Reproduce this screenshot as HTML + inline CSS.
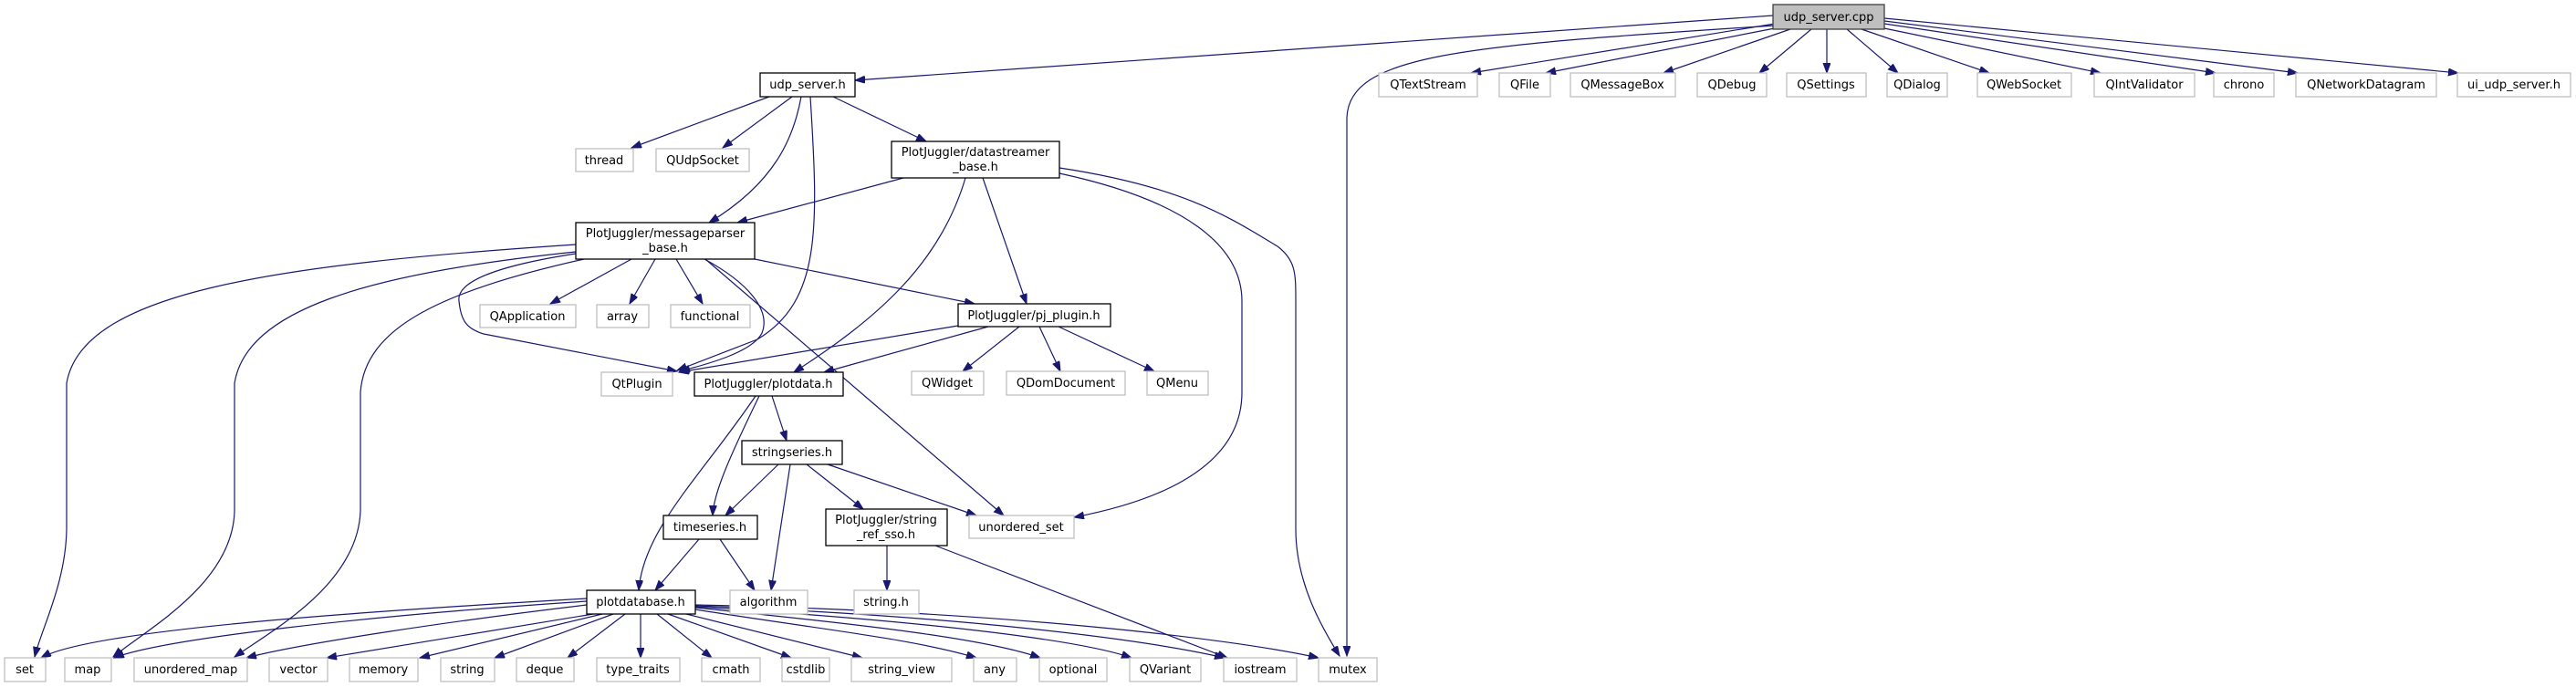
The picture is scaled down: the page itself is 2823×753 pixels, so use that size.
<!DOCTYPE html>
<html><head><meta charset="utf-8"><style>
html,body{margin:0;padding:0;background:#fff;}
svg{display:block;}
text{font-family:"DejaVu Sans","Liberation Sans",sans-serif;font-size:13px;fill:#000;text-anchor:middle;}
.n{fill:#fff;stroke:#bfbfbf;stroke-width:1.3;}
.d{fill:#fff;stroke:#000;stroke-width:1.3;}
.e{fill:none;stroke:#191970;stroke-width:1.2;marker-end:url(#a);}
</style></head><body>
<svg width="2823" height="753" viewBox="0 0 2823 753" xmlns="http://www.w3.org/2000/svg">
<defs><marker id="a" markerUnits="userSpaceOnUse" markerWidth="12" markerHeight="9" refX="11" refY="4" orient="auto"><path d="M0,0 L11,4 L0,8 z" fill="#191970" stroke="#191970"/></marker></defs>

<!-- edges -->
<g>
<path class="e" d="M1943,17 L937,88"/>
<path class="e" d="M1945,28 C1600,50 1477,60 1476,130 L1476,719"/>
<path class="e" d="M1945,26 L1612,80"/>
<path class="e" d="M1950,30 L1694,80"/>
<path class="e" d="M1962,32 L1823,80"/>
<path class="e" d="M1985,32 L1928,80"/>
<path class="e" d="M2002,32 L2002,80"/>
<path class="e" d="M2024,32 L2080,80"/>
<path class="e" d="M2040,32 L2180,80"/>
<path class="e" d="M2060,30 L2302,80"/>
<path class="e" d="M2065,26 L2428,80"/>
<path class="e" d="M2065,23 L2518,80"/>
<path class="e" d="M2065,20 L2694,80"/>

<path class="e" d="M843,106 L692,162"/>
<path class="e" d="M868,106 L792,162"/>
<path class="e" d="M878,106 C870,150 850,200 777,244"/>
<path class="e" d="M913,106 L1015,155"/>
<path class="e" d="M888,106 C897,250 900,330 830,372 L742,406"/>

<path class="e" d="M990,195 L808,244"/>
<path class="e" d="M1058,195 C1030,290 960,350 870,408"/>
<path class="e" d="M1077,195 L1125,333"/>
<path class="e" d="M1161,190 C1300,220 1361,270 1361,330 L1361,430 C1361,520 1250,553 1177,567"/>
<path class="e" d="M1161,184 C1300,205 1350,240 1400,270 C1420,285 1420,300 1420,330 L1420,580 C1420,640 1450,690 1468,719"/>

<path class="e" d="M631,268 C300,290 90,320 73,420 L73,580 C72,640 45,690 38,720"/>
<path class="e" d="M631,276 C400,300 270,340 257,420 L257,560 C255,640 160,690 124,720"/>
<path class="e" d="M640,284 C480,320 400,360 395,430 L395,560 C392,640 300,690 257,720"/>
<path class="e" d="M692,284 L603,333"/>
<path class="e" d="M718,284 L690,333"/>
<path class="e" d="M741,284 L770,333"/>
<path class="e" d="M631,278 C540,292 500,310 503,330 C505,350 510,360 530,366 L742,407"/>
<path class="e" d="M772,284 C820,310 845,340 835,365 C825,385 780,398 745,407"/>
<path class="e" d="M773,284 L1100,565"/>
<path class="e" d="M827,284 L1068,333"/>

<path class="e" d="M1050,357 L744,408"/>
<path class="e" d="M1083,358 L903,408"/>
<path class="e" d="M1117,358 L1055,407"/>
<path class="e" d="M1139,358 L1162,407"/>
<path class="e" d="M1160,358 L1265,407"/>

<path class="e" d="M828,434 C770,520 705,580 700,647"/>
<path class="e" d="M832,434 C800,500 782,540 781,565"/>
<path class="e" d="M846,434 L862,483"/>

<path class="e" d="M853,509 L795,565"/>
<path class="e" d="M866,509 L845,647"/>
<path class="e" d="M884,509 L946,558"/>
<path class="e" d="M907,509 L1070,565"/>
<path class="e" d="M766,591 L718,647"/>
<path class="e" d="M789,591 L827,647"/>
<path class="e" d="M972,598 L972,647"/>
<path class="e" d="M1025,598 L1345,721"/>

<path class="e" d="M643,656 C400,670 100,690 45,721"/>
<path class="e" d="M643,659 C400,675 180,700 125,721"/>
<path class="e" d="M643,663 C500,680 330,705 270,721"/>
<path class="e" d="M650,673 L358,721"/>
<path class="e" d="M660,673 L460,721"/>
<path class="e" d="M672,673 L542,721"/>
<path class="e" d="M685,673 L622,721"/>
<path class="e" d="M702,673 L702,721"/>
<path class="e" d="M720,673 L780,721"/>
<path class="e" d="M732,673 L867,721"/>
<path class="e" d="M752,673 L945,721"/>
<path class="e" d="M762,668 C900,690 1000,700 1070,721"/>
<path class="e" d="M762,666 C950,685 1080,700 1140,721"/>
<path class="e" d="M762,665 C1000,680 1180,700 1240,721"/>
<path class="e" d="M762,664 C1050,675 1250,700 1342,721"/>
<path class="e" d="M762,663 C1100,670 1350,700 1445,721"/>
</g>

<!-- nodes -->
<rect x="1943" y="5" width="122" height="27" fill="#bfbfbf" stroke="#404040" stroke-width="1.3"/><text x="2004" y="23">udp_server.cpp</text>

<rect class="d" x="833" y="80" width="104" height="26"/><text x="885" y="97">udp_server.h</text>
<rect class="n" x="1511" y="80" width="108" height="26"/><text x="1565" y="97">QTextStream</text>
<rect class="n" x="1643" y="80" width="56" height="26"/><text x="1671" y="97">QFile</text>
<rect class="n" x="1721" y="80" width="115" height="26"/><text x="1778" y="97">QMessageBox</text>
<rect class="n" x="1860" y="80" width="76" height="26"/><text x="1898" y="97">QDebug</text>
<rect class="n" x="1958" y="80" width="87" height="26"/><text x="2001" y="97">QSettings</text>
<rect class="n" x="2068" y="80" width="66" height="26"/><text x="2101" y="97">QDialog</text>
<rect class="n" x="2167" y="80" width="103" height="26"/><text x="2218" y="97">QWebSocket</text>
<rect class="n" x="2295" y="80" width="110" height="26"/><text x="2350" y="97">QIntValidator</text>
<rect class="n" x="2426" y="80" width="66" height="26"/><text x="2459" y="97">chrono</text>
<rect class="n" x="2516" y="80" width="154" height="26"/><text x="2593" y="97">QNetworkDatagram</text>
<rect class="n" x="2693" y="80" width="124" height="26"/><text x="2755" y="97">ui_udp_server.h</text>

<rect class="n" x="631" y="163" width="63" height="25"/><text x="662" y="180">thread</text>
<rect class="n" x="719" y="163" width="102" height="25"/><text x="770" y="180">QUdpSocket</text>
<rect class="d" x="977" y="155" width="184" height="40"/><text x="1069" y="171">PlotJuggler/datastreamer</text><text x="1069" y="187">_base.h</text>

<rect class="d" x="631" y="244" width="196" height="40"/><text x="729" y="260">PlotJuggler/messageparser</text><text x="729" y="276">_base.h</text>

<rect class="n" x="526" y="334" width="105" height="25"/><text x="578" y="351">QApplication</text>
<rect class="n" x="654" y="334" width="57" height="25"/><text x="682" y="351">array</text>
<rect class="n" x="735" y="334" width="87" height="25"/><text x="778" y="351">functional</text>
<rect class="d" x="1050" y="333" width="167" height="25"/><text x="1133" y="350">PlotJuggler/pj_plugin.h</text>

<rect class="n" x="659" y="408" width="78" height="26"/><text x="698" y="425">QtPlugin</text>
<rect class="d" x="761" y="408" width="163" height="26"/><text x="842" y="425">PlotJuggler/plotdata.h</text>
<rect class="n" x="999" y="407" width="79" height="26"/><text x="1038" y="424">QWidget</text>
<rect class="n" x="1103" y="407" width="130" height="26"/><text x="1168" y="424">QDomDocument</text>
<rect class="n" x="1257" y="407" width="67" height="26"/><text x="1290" y="424">QMenu</text>

<rect class="d" x="813" y="483" width="110" height="26"/><text x="868" y="500">stringseries.h</text>

<rect class="d" x="727" y="565" width="103" height="26"/><text x="778" y="582">timeseries.h</text>
<rect class="d" x="905" y="558" width="133" height="40"/><text x="971" y="574">PlotJuggler/string</text><text x="971" y="590">_ref_sso.h</text>
<rect class="n" x="1062" y="565" width="115" height="25"/><text x="1119" y="582">unordered_set</text>

<rect class="d" x="643" y="647" width="119" height="26"/><text x="702" y="664">plotdatabase.h</text>
<rect class="n" x="800" y="647" width="85" height="26"/><text x="842" y="664">algorithm</text>
<rect class="n" x="936" y="647" width="71" height="26"/><text x="971" y="664">string.h</text>

<rect class="n" x="5" y="721" width="45" height="26"/><text x="27" y="738">set</text>
<rect class="n" x="71" y="721" width="51" height="26"/><text x="96" y="738">map</text>
<rect class="n" x="147" y="721" width="124" height="26"/><text x="209" y="738">unordered_map</text>
<rect class="n" x="295" y="721" width="64" height="26"/><text x="327" y="738">vector</text>
<rect class="n" x="383" y="721" width="75" height="26"/><text x="420" y="738">memory</text>
<rect class="n" x="483" y="721" width="59" height="26"/><text x="512" y="738">string</text>
<rect class="n" x="566" y="721" width="63" height="26"/><text x="597" y="738">deque</text>
<rect class="n" x="654" y="721" width="91" height="26"/><text x="699" y="738">type_traits</text>
<rect class="n" x="769" y="721" width="64" height="26"/><text x="801" y="738">cmath</text>
<rect class="n" x="857" y="721" width="52" height="26"/><text x="883" y="738">cstdlib</text>
<rect class="n" x="933" y="721" width="110" height="26"/><text x="988" y="738">string_view</text>
<rect class="n" x="1067" y="721" width="47" height="26"/><text x="1090" y="738">any</text>
<rect class="n" x="1139" y="721" width="74" height="26"/><text x="1176" y="738">optional</text>
<rect class="n" x="1238" y="721" width="78" height="26"/><text x="1277" y="738">QVariant</text>
<rect class="n" x="1341" y="721" width="80" height="26"/><text x="1381" y="738">iostream</text>
<rect class="n" x="1445" y="721" width="64" height="26"/><text x="1477" y="738">mutex</text>
</svg>
</body></html>
